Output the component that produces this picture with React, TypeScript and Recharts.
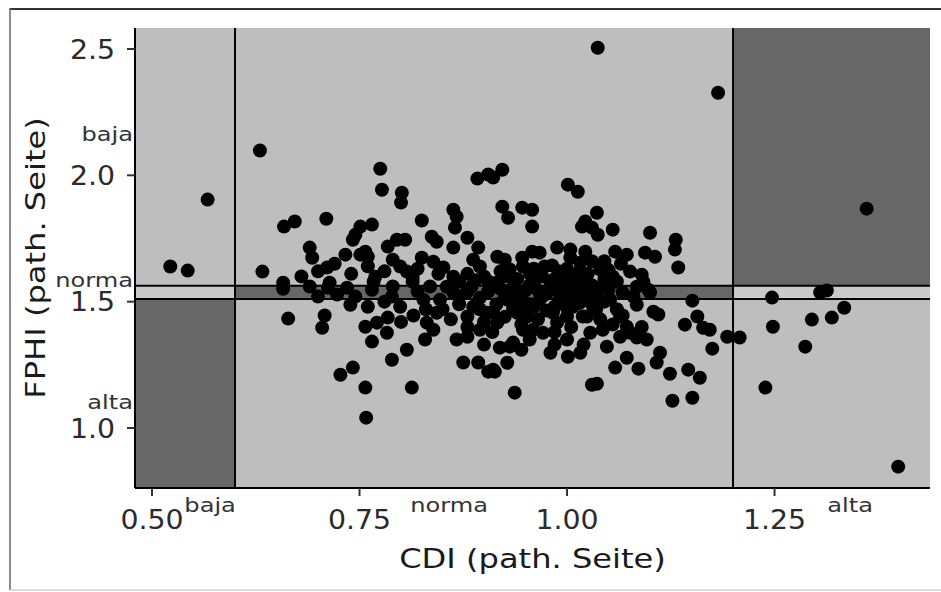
import {
  ScatterChart,
  Scatter,
  XAxis,
  YAxis,
  ReferenceArea,
  ReferenceLine,
  ReferenceDot,
} from "recharts";

// axis ranges and ticks
const CDI_DOMAIN: [number, number] = [0.4795, 1.4373];
const FPHI_DOMAIN: [number, number] = [0.7626, 2.583];
const CDI_TICKS = [0.5, 0.75, 1.0, 1.25];
const FPHI_TICKS = [1.0, 1.5, 2.0, 2.5];

// reference limits (normal range)
const CDI_CUTS = [0.6, 1.2];
const FPHI_CUTS = [1.511, 1.563];

// zone labels
const ZONE_NAMES = ["baja", "norma", "alta"];
const CDI_LABEL_AT = [0.57, 0.858, 1.341];
const FPHI_LABEL_AT = [2.137, 1.559, 1.077];
const CDI_LABEL_ROW = 0.6676;
const FPHI_LABEL_COL = 0.4771;

// [CDI, FPHI]
const outlierPoints = [
  [1.037, 2.505], [1.182, 2.327], [0.63, 2.098], [0.567, 1.904], [1.361, 1.868],
  [1.399, 0.847], [0.522, 1.639], [0.543, 1.623], [0.633, 1.619], [0.658, 1.551],
  [0.664, 1.433], [0.758, 1.041], [0.757, 1.16], [0.813, 1.16], [0.727, 1.211],
  [0.742, 1.239], [1.239, 1.16], [1.127, 1.108], [1.151, 1.12], [0.937, 1.14],
];

const rightPoints = [
  [1.247, 1.516], [1.248, 1.401], [1.287, 1.322], [1.295, 1.429], [1.305, 1.536],
  [1.313, 1.544], [1.319, 1.437], [1.334, 1.476], [1.208, 1.358], [1.193, 1.361],
  [1.175, 1.314], [1.172, 1.389], [1.151, 1.504], [1.142, 1.409], [1.157, 1.441],
  [1.164, 1.397], [1.134, 1.635], [1.131, 1.745], [1.13, 1.706], [1.104, 1.46],
  [1.11, 1.449], [1.098, 1.547], [1.092, 1.579], [1.076, 1.619], [1.096, 1.35],
  [1.112, 1.298], [1.108, 1.259], [1.124, 1.215], [1.146, 1.231], [1.16, 1.199],
  [1.1, 1.773], [1.09, 1.607], [1.106, 1.678], [1.094, 1.694],
];

const upperPoints = [
  [0.775, 2.026], [0.777, 1.943], [0.801, 1.931], [0.8, 1.892], [0.892, 1.987],
  [0.905, 2.003], [0.922, 2.022], [0.911, 1.991], [1.001, 1.963], [1.013, 1.935],
  [0.922, 1.876], [0.929, 1.832], [0.946, 1.872], [0.958, 1.864], [0.958, 1.797],
  [1.036, 1.852], [1.022, 1.817], [1.018, 1.797], [1.03, 1.793], [1.037, 1.765],
  [1.055, 1.785], [0.659, 1.797], [0.672, 1.817], [0.71, 1.828], [0.745, 1.765],
  [0.751, 1.797], [0.765, 1.805], [0.742, 1.745], [0.825, 1.821], [0.863, 1.864],
  [0.867, 1.836], [0.865, 1.793], [0.837, 1.757], [0.843, 1.737], [0.863, 1.714],
  [0.88, 1.753], [0.893, 1.714], [0.69, 1.714], [0.784, 1.718], [0.795, 1.745],
  [0.805, 1.745], [0.988, 1.714], [1.004, 1.706], [0.958, 1.698],
];

const midPoints = [
  [0.693, 1.674], [0.733, 1.686], [0.751, 1.686], [0.76, 1.678], [0.757, 1.698],
  [0.711, 1.635], [0.79, 1.666], [0.799, 1.639], [0.807, 1.619], [0.825, 1.674],
  [0.839, 1.658], [0.851, 1.635], [0.863, 1.599], [0.769, 1.599], [0.814, 1.595],
  [0.658, 1.575], [0.714, 1.575], [0.887, 1.666], [0.895, 1.639], [0.916, 1.678],
  [0.925, 1.666], [0.946, 1.674], [0.967, 1.694], [1.022, 1.698], [1.004, 1.674],
  [1.016, 1.654], [1.058, 1.698], [1.072, 1.686], [0.973, 1.639], [0.982, 1.643],
  [1.04, 1.627], [0.947, 1.639], [0.931, 1.627], [0.68, 1.6], [0.7, 1.62],
  [0.72, 1.65], [0.74, 1.61], [0.76, 1.64], [0.78, 1.62], [0.82, 1.63],
  [0.845, 1.61], [0.88, 1.61], [1.065, 1.65], [1.045, 1.66], [1.03, 1.66],
  [0.99, 1.62], [0.955, 1.61], [0.925, 1.6], [0.9, 1.6], [0.97, 1.6],
  [1.005, 1.6], [1.025, 1.61], [0.96, 1.63], [1.0, 1.63], [1.015, 1.62],
  [1.05, 1.625], [0.92, 1.62], [1.055, 1.6],
];

const bandPoints = [
  [0.712, 1.555], [0.723, 1.528], [0.735, 1.555], [0.739, 1.488], [0.765, 1.547],
  [0.767, 1.579], [0.789, 1.52], [0.799, 1.48], [0.814, 1.579], [0.827, 1.508],
  [0.847, 1.508], [0.863, 1.536], [0.855, 1.559], [0.982, 1.559], [0.928, 1.508],
  [0.947, 1.536], [0.967, 1.508], [1.016, 1.547], [1.036, 1.536], [1.052, 1.508],
  [1.067, 1.536], [1.084, 1.559], [1.1, 1.536], [1.007, 1.48], [0.983, 1.456],
  [0.911, 1.456], [0.94, 1.456], [0.87, 1.58], [0.885, 1.56], [0.905, 1.54],
  [0.915, 1.575], [0.935, 1.56], [0.94, 1.59], [0.95, 1.545], [0.96, 1.575],
  [0.975, 1.53], [0.985, 1.59], [0.995, 1.56], [1.01, 1.52], [1.02, 1.58],
  [1.03, 1.565], [1.045, 1.59], [1.05, 1.55], [1.06, 1.58], [0.895, 1.515],
  [0.915, 1.49], [0.935, 1.475], [0.945, 1.5], [0.96, 1.48], [0.975, 1.465],
  [0.99, 1.5], [1.0, 1.475], [1.015, 1.495], [1.035, 1.47], [1.045, 1.5],
  [1.06, 1.47], [1.08, 1.52], [0.87, 1.52], [0.895, 1.47], [0.82, 1.54],
  [0.835, 1.56], [0.79, 1.56], [0.78, 1.5], [0.76, 1.48], [0.745, 1.52],
  [0.7, 1.52], [0.69, 1.56], [0.887, 1.48], [0.904, 1.456], [0.843, 1.456],
  [0.85, 1.47], [0.83, 1.47], [1.084, 1.488], [0.905, 1.58], [0.92, 1.55],
  [0.93, 1.53], [0.955, 1.565], [0.965, 1.545], [0.98, 1.575], [0.99, 1.54],
  [1.0, 1.585], [1.005, 1.545], [1.015, 1.565], [1.025, 1.535], [1.04, 1.555],
  [0.925, 1.52], [0.955, 1.49], [0.985, 1.48], [1.02, 1.51], [1.03, 1.49],
  [0.88, 1.54], [0.89, 1.585], [0.95, 1.46], [1.0, 1.51], [0.97, 1.52],
  [0.94, 1.52], [0.87, 1.49],
];

const lowerPoints = [
  [1.064, 1.441], [1.072, 1.401], [1.086, 1.235], [1.058, 1.239], [1.072, 1.278],
  [1.048, 1.322], [1.036, 1.175], [1.03, 1.171], [1.016, 1.298], [1.001, 1.282],
  [0.98, 1.298], [0.913, 1.223], [0.928, 1.258], [0.919, 1.318], [0.935, 1.338],
  [1.067, 1.445], [1.076, 1.377], [1.084, 1.358], [1.064, 1.361], [1.019, 1.441],
  [1.028, 1.377], [1.043, 1.389], [1.0, 1.441], [0.988, 1.417], [0.971, 1.377],
  [0.952, 1.441], [0.947, 1.389], [0.959, 1.389], [0.916, 1.417], [1.024, 1.441],
  [0.931, 1.322], [0.911, 1.231], [0.708, 1.445], [0.705, 1.397], [0.757, 1.401],
  [0.771, 1.417], [0.784, 1.437], [0.783, 1.377], [0.765, 1.342], [0.807, 1.31],
  [0.789, 1.27], [0.831, 1.417], [0.839, 1.389], [0.829, 1.35], [0.867, 1.35],
  [0.88, 1.361], [0.895, 1.389], [0.88, 1.441], [0.875, 1.259], [0.893, 1.259],
  [0.905, 1.223], [0.965, 1.43], [0.985, 1.38], [1.005, 1.4], [1.04, 1.43],
  [1.055, 1.41], [0.955, 1.35], [0.945, 1.41], [0.9, 1.42], [0.91, 1.38],
  [0.88, 1.4], [0.86, 1.43], [0.815, 1.445], [0.8, 1.42], [0.9, 1.33],
  [1.09, 1.4], [0.985, 1.33], [1.0, 1.35], [1.02, 1.33], [0.945, 1.31],
  [0.925, 1.44],
];

const PANEL = "#bebebe";
const DARK = "#676767";
const BAND = "#cacaca";
const FONT = "DejaVu Sans";

const points = [
  ...outlierPoints,
  ...rightPoints,
  ...upperPoints,
  ...midPoints,
  ...bandPoints,
  ...lowerPoints,
].map(([x, y]) => ({ x, y }));

const [xa, xb] = CDI_DOMAIN;
const [ya, yb] = FPHI_DOMAIN;
const [c1, c2] = CDI_CUTS;
const [f1, f2] = FPHI_CUTS;

const areas = [
  { x1: xa, x2: xb, y1: ya, y2: yb, fill: PANEL },
  { x1: xa, x2: c1, y1: ya, y2: f1, fill: DARK },
  { x1: c1, x2: c2, y1: f1, y2: f2, fill: DARK },
  { x1: c2, x2: xb, y1: f2, y2: yb, fill: DARK },
  { x1: xa, x2: c1, y1: f1, y2: f2, fill: BAND },
  { x1: c2, x2: xb, y1: f1, y2: f2, fill: BAND },
];

const XTick = (p: any) => (
  <text
    transform={`translate(${p.x},${p.y}) scale(1.05,1)`}
    textAnchor="middle"
    dy="0.71em"
    fontSize={27}
    fontFamily={FONT}
    fill="#2b2b2b"
  >
    {Number(p.payload.value).toFixed(2)}
  </text>
);

const YTick = (p: any) => (
  <text
    transform={`translate(${p.x},${p.y}) scale(1.05,1)`}
    textAnchor="end"
    dy="0.355em"
    fontSize={27}
    fontFamily={FONT}
    fill="#2b2b2b"
  >
    {Number(p.payload.value).toFixed(1)}
  </text>
);

const zoneLabel = (name: string, anchor: "middle" | "end") => (p: any) => (
  <text
    transform={`translate(${p.cx},${p.cy}) scale(1.27,1)`}
    textAnchor={anchor}
    fontSize={19}
    fontFamily={FONT}
    fill="#333"
  >
    {name}
  </text>
);

const Dot = (p: any) => <circle cx={p.cx} cy={p.cy} r={7} fill="#000" />;

export default function App() {
  return (
    <div style={{ position: "absolute", left: 0, top: 0, width: 941, height: 592, background: "#fff" }}>
      <ScatterChart width={941} height={592} margin={{ top: 28, right: 11, bottom: 44, left: 75 }}>
        <XAxis
          type="number"
          dataKey="x"
          domain={CDI_DOMAIN}
          ticks={CDI_TICKS}
          interval={0}
          allowDataOverflow
          height={60}
          tickSize={8}
          tickMargin={14}
          tick={XTick}
          axisLine={{ stroke: "#000", strokeWidth: 2 }}
          tickLine={{ stroke: "#333", strokeWidth: 2 }}
        />
        <YAxis
          type="number"
          dataKey="y"
          domain={FPHI_DOMAIN}
          ticks={FPHI_TICKS}
          interval={0}
          allowDataOverflow
          width={60}
          tickSize={8}
          tickMargin={12}
          tick={YTick}
          axisLine={{ stroke: "#000", strokeWidth: 2 }}
          tickLine={{ stroke: "#333", strokeWidth: 2 }}
        />
        {areas.map((a, i) => (
          <ReferenceArea key={i} x1={a.x1} x2={a.x2} y1={a.y1} y2={a.y2} fill={a.fill} fillOpacity={1} stroke="none" />
        ))}
        {CDI_CUTS.map((c) => (
          <ReferenceLine key={"v" + c} x={c} stroke="#000" strokeWidth={2} />
        ))}
        {FPHI_CUTS.map((c) => (
          <ReferenceLine key={"h" + c} y={c} stroke="#000" strokeWidth={2} />
        ))}
        {ZONE_NAMES.map((n, i) => (
          <ReferenceDot key={"xl" + n} x={CDI_LABEL_AT[i]} y={CDI_LABEL_ROW} ifOverflow="visible" shape={zoneLabel(n, "middle")} />
        ))}
        {ZONE_NAMES.map((n, i) => (
          <ReferenceDot key={"yl" + n} x={FPHI_LABEL_COL} y={FPHI_LABEL_AT[i]} ifOverflow="visible" shape={zoneLabel(n, "end")} />
        ))}
        <Scatter data={points} shape={Dot} isAnimationActive={false} />
      </ScatterChart>
      <svg width={941} height={592} style={{ position: "absolute", left: 0, top: 0, pointerEvents: "none" }}>
        <line x1={10} y1={9} x2={941} y2={9} stroke="#333" strokeWidth={2} />
        <line x1={10} y1={8} x2={10} y2={590} stroke="#666" strokeWidth={1.5} />
        <line x1={10} y1={590} x2={941} y2={590} stroke="#bbb" strokeWidth={1} />
        <text transform="translate(532.5,568) scale(1.19,1)" textAnchor="middle" fontSize={27} fontFamily={FONT} fill="#1a1a1a">
          CDI (path. Seite)
        </text>
        <text transform="translate(45,258) rotate(-90) scale(1.19,1)" textAnchor="middle" fontSize={27} fontFamily={FONT} fill="#1a1a1a">
          FPHI (path. Seite)
        </text>
      </svg>
    </div>
  );
}
